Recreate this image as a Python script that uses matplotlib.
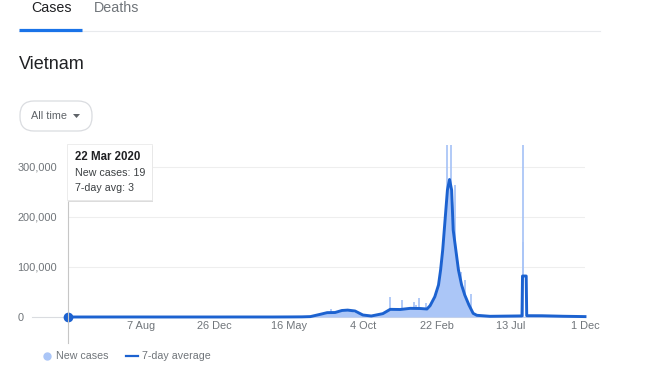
import matplotlib
matplotlib.use("Agg")
import matplotlib.pyplot as plt
import pandas as pd
from matplotlib.patches import FancyBboxPatch, Rectangle, Polygon
from matplotlib.lines import Line2D

plt.rcParams['font.family'] = ['Liberation Sans', 'DejaVu Sans']

# 7-day average, points
avg_dates = ['2020-03-22', '2020-04-15', '2020-08-01', '2020-09-01', '2021-01-01',
             '2021-02-01', '2021-04-15', '2021-05-20', '2021-06-10', '2021-06-26',
             '2021-07-15', '2021-07-28', '2021-08-12', '2021-08-25', '2021-09-05',
             '2021-09-19', '2021-10-04', '2021-10-20', '2021-11-11', '2021-11-25',
             '2021-12-14', '2022-01-02', '2022-01-21', '2022-02-03', '2022-02-09',
             '2022-02-18', '2022-02-25', '2022-03-01', '2022-03-05', '2022-03-08',
             '2022-03-14', '2022-03-18', '2022-03-22', '2022-03-25', '2022-03-30',
             '2022-04-04', '2022-04-10', '2022-04-16', '2022-04-24', '2022-05-02',
             '2022-05-09', '2022-06-03', '2022-07-20', '2022-08-03', '2022-08-04',
             '2022-08-11', '2022-08-12', '2022-09-10', '2022-10-20', '2022-12-01']
avg_values = [3, 5, 40, 10, 5,
              40, 10, 150, 300, 800,
              5400, 8700, 9000, 13000, 13800,
              12000, 4000, 2000, 6700, 15300,
              15000, 17300, 17000, 16000, 22700,
              40600, 64000, 94000, 134000, 174000,
              254000, 275000, 254000, 174000, 134000,
              94000, 64000, 44000, 24000, 7300,
              3400, 1400, 2000, 2200, 82000,
              82000, 2600, 2500, 1500, 800]

# new cases (bulk of the daily bars)
new_dates = ['2020-03-22', '2021-06-26', '2021-07-15', '2021-08-12', '2021-09-05',
             '2021-10-04', '2021-10-20', '2021-11-11', '2021-11-25', '2021-12-14',
             '2022-01-02', '2022-01-21', '2022-02-03', '2022-02-09', '2022-02-18',
             '2022-02-25', '2022-03-01', '2022-03-05', '2022-03-08', '2022-03-12',
             '2022-03-18', '2022-03-24', '2022-03-30', '2022-04-04', '2022-04-10',
             '2022-04-16', '2022-04-24', '2022-05-02', '2022-05-09', '2022-06-03',
             '2022-12-01']
new_values = [19, 800, 5500, 9000, 14000,
              4000, 2000, 7000, 16000, 15500,
              17500, 17500, 16500, 24000, 44000,
              70000, 100000, 140000, 185000, 250000,
              280000, 230000, 140000, 100000, 68000,
              46000, 26000, 8000, 3500, 1400,
              800]

# single days that stick out of the area
spike_dates = ['2021-08-04', '2021-11-25', '2021-12-17', '2022-01-09', '2022-01-14',
               '2022-01-19', '2022-02-01', '2022-03-14', '2022-03-20', '2022-03-29',
               '2022-04-08', '2022-04-16', '2022-04-27', '2022-08-04', '2022-08-05']
spike_values = [16000, 40000, 34000, 30600, 24000,
                37400, 29000, 420000, 450000, 264000,
                90000, 74000, 47000, 560000, 150000]

x_ticks = ['2020-08-07', '2020-12-26', '2021-05-16', '2021-10-04',
           '2022-02-22', '2022-07-13', '2022-12-01']
x_tick_labels = ['7 Aug', '26 Dec', '16 May', '4 Oct', '22 Feb', '13 Jul', '1 Dec']
y_ticks = [0, 100000, 200000, 300000]
y_tick_labels = ['0', '100,000', '200,000', '300,000']

W, H = 660, 374
LINE = '#1c62d0'
FILL = '#abc6f7'
GREY = '#70757a'
DARK = '#202124'

fig = plt.figure(figsize=(6.6, 3.74), dpi=100)
fig.patch.set_facecolor('white')

# overlay in pixel coordinates for the page furniture
deco = fig.add_axes([0, 0, 1, 1], zorder=0)
deco.set_xlim(0, W)
deco.set_ylim(H, 0)
deco.axis('off')

# header: tabs, title, button
deco.text(51, 8, 'Cases', fontsize=10.3, color=DARK, ha='center', va='center')
deco.text(117, 8, 'Deaths', fontsize=10.3, color=GREY, ha='center', va='center')
deco.plot([19, 600], [31, 31], color='#e8eaed', lw=0.8)
deco.plot([19, 82], [29.5, 29.5], color='#1a73e8', lw=2.3, solid_capstyle='butt')
deco.text(19, 64, 'Vietnam', fontsize=13, color=DARK, ha='left', va='center')
deco.add_patch(FancyBboxPatch((20, 101), 72, 30, boxstyle='round,pad=0,rounding_size=14',
                              facecolor='white', edgecolor='#dadce0', lw=0.9))
deco.text(31, 116, 'All time', fontsize=7.8, color='#5f6368', ha='left', va='center')
deco.add_patch(Polygon([[73, 114], [80, 114], [76.5, 118]], closed=True,
                       facecolor='#5f6368', edgecolor='none'))

# chart
x0, x1 = 68.3, 585.0
ytop, ybot = 145.0, 317.0
ax = fig.add_axes([x0 / W, 1 - ybot / H, (x1 - x0) / W, (ybot - ytop) / H], zorder=1)
ax.patch.set_alpha(0)
ax.set_xlim(pd.Timestamp('2020-03-22'), pd.Timestamp('2022-12-01'))
ax.set_ylim(0, (ybot - ytop) * 2000)
for s in ax.spines.values():
    s.set_visible(False)

for v in y_ticks[1:]:
    ax.axhline(v, color='#eeeeee', lw=0.8, zorder=0)
ax.axhline(0, xmin=(32 - x0) / (x1 - x0), xmax=1, color='#dadce0', lw=0.8,
           clip_on=False, zorder=0)

nd = pd.to_datetime(new_dates)
ax.fill_between(nd, 0, new_values, color=FILL, lw=0, zorder=1)
sd = pd.to_datetime(spike_dates)
ax.vlines(sd, 0, spike_values, color=FILL, lw=1.3, zorder=1)

ad = pd.to_datetime(avg_dates)
ax.plot(ad, avg_values, color=LINE, lw=2.1, zorder=3, clip_on=False,
        solid_joinstyle='round')

ax.set_xticks(pd.to_datetime(x_ticks))
ax.set_xticklabels(x_tick_labels)
ax.set_yticks(y_ticks)
ax.set_yticklabels(y_tick_labels)
ax.tick_params(axis='x', length=0, pad=3, labelsize=7.9, labelcolor=GREY)
ax.tick_params(axis='y', length=0, pad=36.5, labelsize=7.9, labelcolor=GREY)
for lbl in ax.get_yticklabels():
    lbl.set_horizontalalignment('left')

# hover line, point and tooltip
top = fig.add_axes([0, 0, 1, 1], zorder=2)
top.set_xlim(0, W)
top.set_ylim(H, 0)
top.axis('off')
top.patch.set_alpha(0)
top.plot([68, 68], [145, 343], color='#c6c6c6', lw=0.8, zorder=1)
ax.plot([ad[0]], [avg_values[0]], 'o', color=LINE, ms=6, zorder=5, clip_on=False)
top.add_patch(Rectangle((68, 146), 85, 56, facecolor='#dcdcdc', edgecolor='none', zorder=2))
top.add_patch(Rectangle((67, 144), 85, 56, facecolor='white', edgecolor='#e6e6e6',
                        lw=0.5, zorder=3))
top.text(75, 156.5, '22 Mar 2020', fontsize=8.3, fontweight='bold', color=DARK,
         ha='left', va='center', zorder=4)
top.text(75, 173, 'New cases: 19', fontsize=7.7, color='#3c4043',
         ha='left', va='center', zorder=4)
top.text(75, 188, '7-day avg: 3', fontsize=7.7, color='#3c4043',
         ha='left', va='center', zorder=4)

# legend
top.plot([46.7], [356], 'o', ms=5, color=FILL)
top.text(55.5, 356, 'New cases', fontsize=7.7, color=GREY, ha='left', va='center')
top.plot([126, 138], [356, 356], color=LINE, lw=1.6)
top.text(141.5, 356, '7-day average', fontsize=7.7, color=GREY, ha='left', va='center')

fig.savefig('out.png', dpi=100, facecolor='white')
